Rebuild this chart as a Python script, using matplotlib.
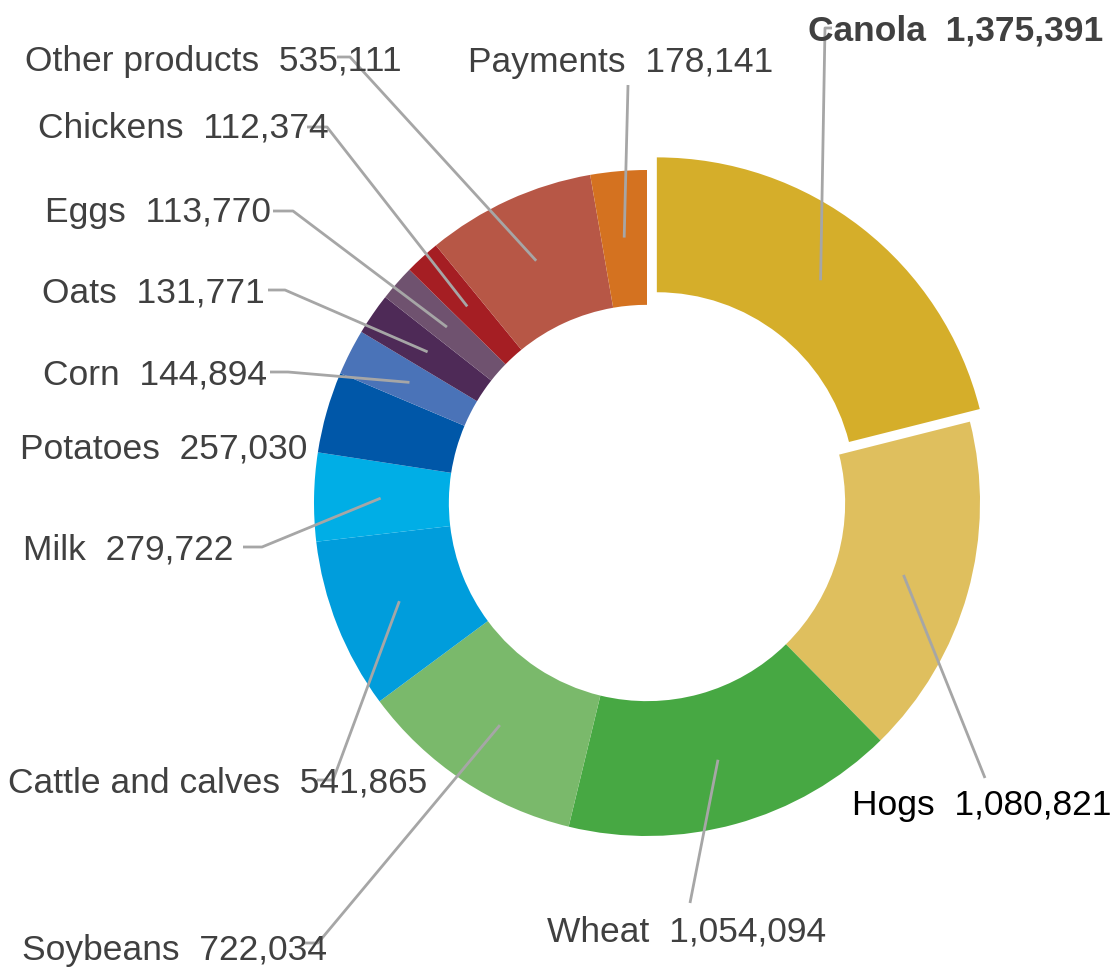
import numpy as np
import matplotlib
matplotlib.use("Agg")
import matplotlib.pyplot as plt

plt.rcParams['font.family'] = ['Liberation Sans Narrow', 'Liberation Sans', 'DejaVu Sans']

# data
products = ["Canola", "Hogs", "Wheat", "Soybeans", "Cattle and calves", "Milk",
            "Potatoes", "Corn", "Oats", "Eggs", "Chickens", "Other products", "Payments"]
values = [1375391, 1080821, 1054094, 722034, 541865, 279722,
          257030, 144894, 131771, 113770, 112374, 535111, 178141]
colors = ["#D5AE2A", "#DFBF5E", "#47A843", "#7AB96B", "#009DDC", "#00AEE6",
          "#0057A8", "#4A73B8", "#4E2A57", "#6F526F", "#A51E23", "#B75746", "#D47220"]

W, H = 1116, 971
cx, cy, R = 647, H - 503, 333

# label layout in pixels (x left, y from top), leader elbow/end points (pixel, from top)
label_pos = {
    "Canola": (808, 31), "Hogs": (852, 805), "Wheat": (547, 932),
    "Soybeans": (22, 950), "Cattle and calves": (8, 783), "Milk": (23, 550),
    "Potatoes": (20, 449), "Corn": (43, 375), "Oats": (42, 293), "Eggs": (45, 212),
    "Chickens": (38, 128), "Other products": (25, 61), "Payments": (468, 62),
}
leader_pts = {
    "Canola": [(825, 28), (832, 28)],
    "Hogs": [(985, 778)],
    "Wheat": [(690, 903)],
    "Soybeans": [(318, 943), (303, 943)],
    "Cattle and calves": [(333, 780), (317, 780)],
    "Milk": [(262, 547), (243, 547)],
    "Potatoes": None,
    "Corn": [(288, 372), (270, 372)],
    "Oats": [(285, 290), (268, 290)],
    "Eggs": [(293, 211), (273, 211)],
    "Chickens": [(327, 127), (307, 127)],
    "Other products": [(350, 57), (337, 57)],
    "Payments": [(628, 85)],
}

fig = plt.figure(figsize=(W / 100, H / 100), dpi=100)
ax = fig.add_axes([0, 0, 1, 1])

explode = [16] + [0] * (len(values) - 1)
wedges, _ = ax.pie(values, colors=colors, startangle=90, counterclock=False,
                   explode=explode, center=(cx, cy), radius=R, frame=True,
                   wedgeprops=dict(width=R * 0.405, linewidth=0))
ax.set_xlim(0, W)
ax.set_ylim(0, H)
ax.set_aspect('equal')
ax.axis('off')

for i, (name, val) in enumerate(zip(products, values)):
    w = wedges[i]
    ang = np.deg2rad((w.theta1 + w.theta2) / 2)
    r = R * 0.8 + explode[i]
    ax_x = cx + r * np.cos(ang)
    ax_y = cy + r * np.sin(ang)
    pts = leader_pts[name]
    if pts:
        xs = [ax_x] + [p[0] for p in pts]
        ys = [ax_y] + [H - p[1] for p in pts]
        ax.plot(xs, ys, color="#A6A6A6", lw=2, solid_capstyle='butt', zorder=3)
    lx, ly = label_pos[name]
    txt = f"{name}  {val:,}"
    color = "#000000" if name == "Hogs" else "#404040"
    weight = "bold" if name == "Canola" else "normal"
    ax.text(lx, H - ly, txt, fontsize=25.5, color=color, fontweight=weight,
            ha='left', va='center', zorder=4)

fig.savefig("out.png", dpi=100)
